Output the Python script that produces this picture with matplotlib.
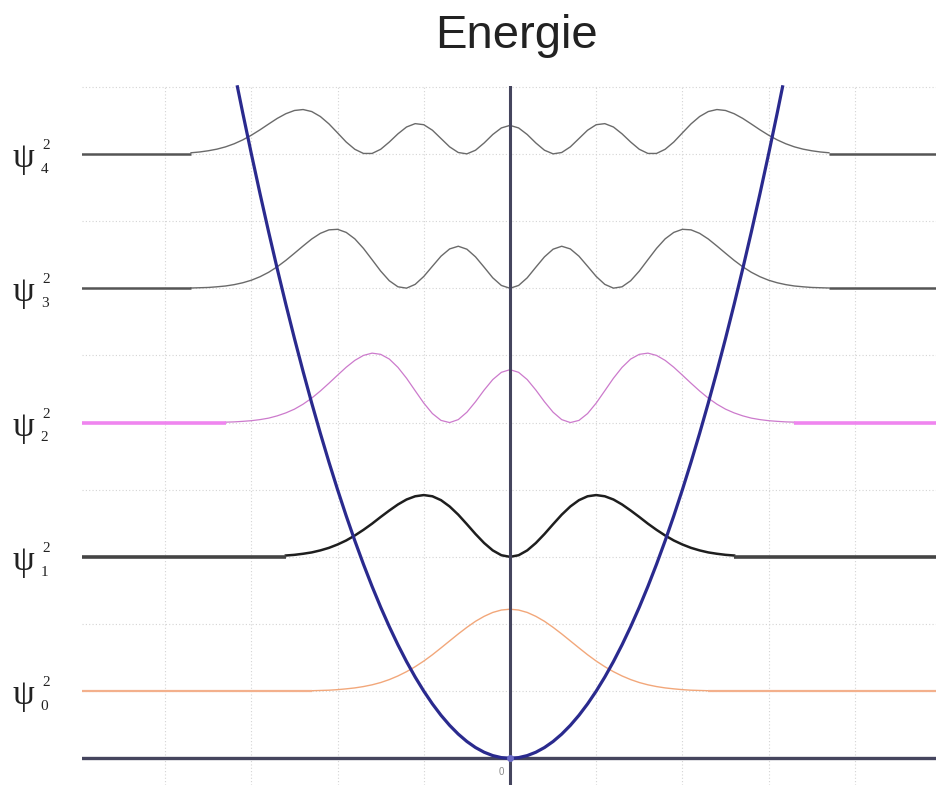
import numpy as np
import matplotlib
matplotlib.use("Agg")
import matplotlib.pyplot as plt
import matplotlib.transforms as mtransforms

# abscisses des echantillons (demi-courbe, x >= 0), les courbes sont symetriques
x_half = [0.0, 0.1, 0.2, 0.3, 0.4, 0.5, 0.6, 0.7, 0.8, 0.9,
          1.0, 1.1, 1.2, 1.3, 1.4, 1.5, 1.6, 1.7, 1.8, 1.9,
          2.0, 2.1, 2.2, 2.3, 2.4, 2.5, 2.6, 2.7, 2.8, 2.9,
          3.0, 3.1, 3.2, 3.3, 3.4, 3.5, 3.6, 3.7]

# niveaux d'energie (n + 1/2)
levels = [0.5, 1.5, 2.5, 3.5, 4.5]
names = ['0', '1', '2', '3', '4']

# hauteur de |psi_n|^2 au-dessus du niveau
psi0_h = [0.610, 0.604, 0.586, 0.557, 0.520, 0.475, 0.426, 0.374, 0.322, 0.271,
          0.224, 0.182, 0.145, 0.113, 0.086, 0.064, 0.047, 0.034, 0.024, 0.017,
          0.011, 0.007, 0.005, 0.003]
psi1_h = [0.000, 0.012, 0.048, 0.103, 0.170, 0.243, 0.314, 0.375, 0.422, 0.451,
          0.460, 0.451, 0.427, 0.390, 0.345, 0.297, 0.247, 0.201, 0.159, 0.122,
          0.092, 0.067, 0.048, 0.033, 0.023, 0.015, 0.010]
psi2_h = [0.394, 0.374, 0.320, 0.242, 0.155, 0.077, 0.022, 0.000, 0.016, 0.067,
          0.145, 0.237, 0.330, 0.411, 0.473, 0.508, 0.517, 0.500, 0.463, 0.412,
          0.353, 0.293, 0.235, 0.182, 0.137, 0.100, 0.072, 0.050, 0.033, 0.022,
          0.014, 0.009, 0.005, 0.003]
psi3_h = [0.000, 0.021, 0.078, 0.157, 0.234, 0.291, 0.313, 0.293, 0.239, 0.164,
          0.088, 0.029, 0.001, 0.011, 0.056, 0.128, 0.213, 0.297, 0.368, 0.416,
          0.439, 0.435, 0.409, 0.367, 0.315, 0.261, 0.208, 0.160, 0.119, 0.086,
          0.060, 0.041, 0.027, 0.017, 0.011, 0.006, 0.004, 0.002]
psi4_h = [0.213, 0.194, 0.145, 0.082, 0.028, 0.001, 0.011, 0.053, 0.115, 0.177,
          0.218, 0.226, 0.201, 0.150, 0.089, 0.035, 0.004, 0.004, 0.035, 0.089,
          0.157, 0.224, 0.279, 0.316, 0.331, 0.324, 0.300, 0.265, 0.223, 0.180,
          0.140, 0.105, 0.076, 0.053, 0.036, 0.024, 0.015, 0.009]
heights = [psi0_h, psi1_h, psi2_h, psi3_h, psi4_h]

# potentiel (parabole), demi-courbe
pot_x = [0.0, 0.1, 0.2, 0.3, 0.4, 0.5, 0.6, 0.7, 0.8, 0.9,
         1.0, 1.1, 1.2, 1.3, 1.4, 1.5, 1.6, 1.7, 1.8, 1.9,
         2.0, 2.1, 2.2, 2.3, 2.4, 2.5, 2.6, 2.7, 2.8, 2.9,
         3.0, 3.1, 3.162]
pot_y = [0.0, 0.005, 0.02, 0.045, 0.08, 0.125, 0.18, 0.245, 0.32, 0.405,
         0.5, 0.605, 0.72, 0.845, 0.98, 1.125, 1.28, 1.445, 1.62, 1.805,
         2.0, 2.205, 2.42, 2.645, 2.88, 3.125, 3.38, 3.645, 3.92, 4.205,
         4.5, 4.805, 5.0]

curve_col = ['#f2a77a', '#1e1e1e', '#cc7acc', '#6a6a6a', '#6a6a6a']
base_col = ['#f3b08c', '#444444', '#ef85ef', '#555555', '#555555']
curve_lw = [1.0, 1.8, 0.9, 1.0, 1.0]
base_lw = [1.6, 2.6, 2.6, 1.8, 1.8]


def mirror(xs, ys):
    xs = np.asarray(xs)
    ys = np.asarray(ys)
    return (np.concatenate([-xs[:0:-1], xs]),
            np.concatenate([ys[:0:-1], ys]))


fig = plt.figure(figsize=(9.36, 7.85), dpi=100)
ax = fig.add_axes([82 / 936, 0.0, 854 / 936, 699.5 / 785])
ax.set_xlim(-4.965, 4.942)
ax.set_ylim(-0.199, 5.01)

ax.set_xticks(range(-4, 5))
ax.set_yticks(np.arange(0, 5.01, 0.5))
ax.tick_params(length=0, labelbottom=False, labelleft=False)
ax.grid(True, color='#d4d4d4', linestyle=(0, (1, 2)), linewidth=0.8)
for s in ax.spines.values():
    s.set_visible(False)

for n in range(5):
    h = heights[n]
    xs, hs = mirror(x_half[:len(h)], h)
    E = levels[n]
    xe = x_half[len(h) - 1]
    ax.plot(xs, E + hs, color=curve_col[n], lw=curve_lw[n], zorder=3)
    ax.plot([-5.2, -xe], [E, E], color=base_col[n], lw=base_lw[n],
            solid_capstyle='butt', zorder=3)
    ax.plot([xe, 5.2], [E, E], color=base_col[n], lw=base_lw[n],
            solid_capstyle='butt', zorder=3)

# axes
ax.axhline(0, color='#45455e', lw=2.4, zorder=4)
ax.axvline(0, color='#45455e', lw=2.2, zorder=4)

px, py = mirror(pot_x, pot_y)
ax.plot(px, py, color='#2a2a8e', lw=2.3, zorder=5, clip_on=False)
ax.plot([0], [0], 'o', ms=4, color='#6b6bc8', zorder=6)
ax.text(-0.1, -0.1, '0', ha='center', va='center', fontsize=7,
        color='#8a8a8a', family='Liberation Sans')

# etiquettes psi_n^2
trans = mtransforms.blended_transform_factory(fig.transFigure, ax.transData)
for n in range(5):
    E = levels[n]
    ax.text(23 / 936, E - 0.097, '\u03c8', transform=trans, ha='center',
            va='baseline', fontsize=25, family='Liberation Serif',
            color='#222222', clip_on=False)
    ax.text(46 / 936, E + 0.037, '2', transform=trans, ha='center',
            va='baseline', fontsize=11, family='Liberation Serif',
            color='#222222', clip_on=False)
    ax.text(44.5 / 936, E - 0.141, names[n], transform=trans, ha='center',
            va='baseline', fontsize=11, family='Liberation Serif',
            color='#222222', clip_on=False)

fig.text(516 / 936, 1 - 48 / 785, 'Energie', ha='center', va='baseline',
         fontsize=34, family='Liberation Sans', color='#222222')

fig.savefig('out.png', dpi=100)
